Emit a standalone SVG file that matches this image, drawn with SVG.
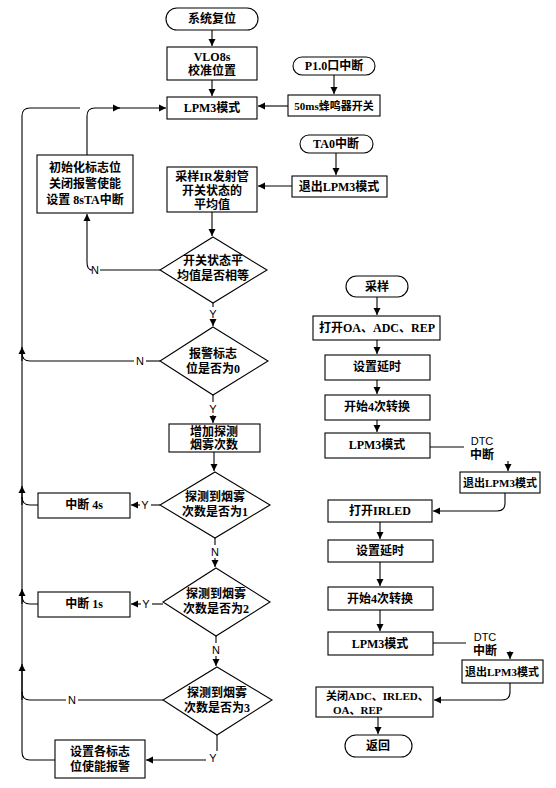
<svg xmlns="http://www.w3.org/2000/svg" width="556" height="788" viewBox="0 0 556 788">
<defs>
<marker id="ah" markerWidth="8" markerHeight="8" refX="7" refY="4" orient="auto" markerUnits="userSpaceOnUse">
<path d="M0,0.5 L7,4 L0,7.5 Z" fill="#000"/>
</marker>
<style>
.b{fill:#fff;stroke:#000;stroke-width:1.1}
.c{fill:none;stroke:#000;stroke-width:1.1}
.t{font-family:"Liberation Serif","Noto Sans CJK SC",serif;font-size:12px;fill:#000;text-anchor:middle;font-weight:bold}
.sm{font-size:11px}
.s{font-family:"Liberation Sans","Noto Sans CJK SC",sans-serif;font-size:11px;fill:#000;text-anchor:middle}
</style>
</defs>
<rect width="556" height="788" fill="#fff"/>

<g id="connectors">
<path class="c" d="M212,30 V46" marker-end="url(#ah)"/>
<path class="c" d="M212,80 V96" marker-end="url(#ah)"/>
<path class="c" d="M334,75 V94" marker-end="url(#ah)"/>
<path class="c" d="M288,106 H258" marker-end="url(#ah)"/>
<path class="c" d="M336,153 V175" marker-end="url(#ah)"/>
<path class="c" d="M292,186 H258" marker-end="url(#ah)"/>
<path class="c" d="M212,212 V236" marker-end="url(#ah)"/>
<path class="c" d="M160,270 H100"/>
<text class="s" x="95" y="274">N</text>
<path class="c" d="M90,270 H92 Q87,270 87,262 V214" marker-end="url(#ah)"/>
<path class="c" d="M87,155 V116 Q87,108 95,108 H120" marker-end="url(#ah)"/>
<path class="c" d="M118,108 H166" marker-end="url(#ah)"/>
<path class="c" d="M213,303 V307"/>
<text class="s" x="213" y="318">Y</text>
<path class="c" d="M213,319 V326" marker-end="url(#ah)"/>
<path class="c" d="M160,361 H146"/>
<text class="s" x="140" y="365">N</text>
<path class="c" d="M134,361 H30 Q22,361 22,353"/>
<path class="c" d="M213,395 V402"/>
<text class="s" x="213" y="413">Y</text>
<path class="c" d="M213,415 V423" marker-end="url(#ah)"/>
<path class="c" d="M214,452 V471" marker-end="url(#ah)"/>
<path class="c" d="M160,505 H151"/>
<text class="s" x="145" y="509">Y</text>
<path class="c" d="M140,505 H131" marker-end="url(#ah)"/>
<path class="c" d="M38,505 H30 Q22,505 22,497"/>
<path class="c" d="M215,538 V545"/>
<text class="s" x="215" y="556">N</text>
<path class="c" d="M215,558 V567" marker-end="url(#ah)"/>
<path class="c" d="M163,604 H152"/>
<text class="s" x="146" y="608">Y</text>
<path class="c" d="M141,604 H131" marker-end="url(#ah)"/>
<path class="c" d="M38,604 H30 Q22,604 22,596"/>
<path class="c" d="M216,636 V643"/>
<text class="s" x="216" y="654">N</text>
<path class="c" d="M216,656 V666" marker-end="url(#ah)"/>
<path class="c" d="M163,700 H78"/>
<text class="s" x="72" y="704">N</text>
<path class="c" d="M66,700 H30 Q22,700 22,692"/>
<path class="c" d="M217,735 V751"/>
<text class="s" x="213" y="762">Y</text>
<path class="c" d="M206,760 H146" marker-end="url(#ah)"/>
<path class="c" d="M55,760 H30 Q22,760 22,752 V116 Q22,108 30,108 H80"/>
<path class="c" d="M22,700 V664" marker-end="url(#ah)"/>
<path class="c" d="M22,604 V589" marker-end="url(#ah)"/>
<path class="c" d="M22,505 V486" marker-end="url(#ah)"/>
<path class="c" d="M22,361 V347" marker-end="url(#ah)"/>

<path class="c" d="M377,297 V315" marker-end="url(#ah)"/>
<path class="c" d="M377,340 V354" marker-end="url(#ah)"/>
<path class="c" d="M377,380 V394" marker-end="url(#ah)"/>
<path class="c" d="M377,420 V432" marker-end="url(#ah)"/>
<path class="c" d="M430,447 H464"/>
<text class="s" x="482" y="445">DTC</text>
<text class="t" x="482" y="459">中断</text>
<path class="c" d="M508,461 V471" marker-end="url(#ah)"/>
<path class="c" d="M505,493 V503 Q505,511 497,511 H433" marker-end="url(#ah)"/>
<path class="c" d="M380,522 V539" marker-end="url(#ah)"/>
<path class="c" d="M380,562 V586" marker-end="url(#ah)"/>
<path class="c" d="M380,610 V631" marker-end="url(#ah)"/>
<path class="c" d="M433,643 H466"/>
<text class="s" x="485" y="641">DTC</text>
<text class="t" x="485" y="655">中断</text>
<path class="c" d="M510,651 V659" marker-end="url(#ah)"/>
<path class="c" d="M510,683 V692 Q510,700 502,700 H434" marker-end="url(#ah)"/>
<path class="c" d="M378,717 V734" marker-end="url(#ah)"/>
</g>

<g id="n_reset"><rect class="b" x="166" y="8" width="92" height="22" rx="11"/><text class="t" x="212" y="23">系统复位</text></g>
<g id="n_vlo"><rect class="b" x="167" y="47" width="90" height="33"/><text class="t" x="212" y="61">VLO8s</text><text class="t" x="212" y="75">校准位置</text></g>
<g id="n_lpm3"><rect class="b" x="167" y="97" width="90" height="22"/><text class="t" x="212" y="112">LPM3模式</text></g>
<g id="n_p10"><rect class="b" x="293" y="57" width="82" height="18" rx="9"/><text class="t" x="334" y="70">P1.0口中断</text></g>
<g id="n_50ms"><rect class="b" x="288" y="95" width="92" height="21"/><text class="t sm" x="334" y="110">50ms蜂鸣器开关</text></g>
<g id="n_ta0"><rect class="b" x="300" y="135" width="73" height="18" rx="9"/><text class="t" x="336" y="148">TA0中断</text></g>
<g id="n_exit0"><rect class="b" x="292" y="176" width="95" height="21"/><text class="t" x="339" y="191">退出LPM3模式</text></g>
<g id="n_init"><rect class="b" x="37" y="155" width="96" height="58"/><text class="t" x="85" y="172">初始化标志位</text><text class="t" x="85" y="188">关闭报警使能</text><text class="t" x="85" y="204">设置 8sTA中断</text></g>
<g id="n_sample"><rect class="b" x="167" y="167" width="90" height="45"/><text class="t" x="212" y="181">采样IR发射管</text><text class="t" x="212" y="195">开关状态的</text><text class="t" x="212" y="209">平均值</text></g>
<g id="d_equal"><polygon class="b" points="213,237 267,270 213,303 160,270"/><text class="t" x="213" y="265">开关状态平</text><text class="t" x="213" y="280">均值是否相等</text></g>
<g id="d_alarm"><polygon class="b" points="213,327 268,361 213,395 160,361"/><text class="t" x="213" y="358">报警标志</text><text class="t" x="213" y="373">位是否为0</text></g>
<g id="n_inc"><rect class="b" x="169" y="424" width="91" height="28"/><text class="t" x="214" y="436">增加探测</text><text class="t" x="214" y="449">烟雾次数</text></g>
<g id="d_1"><polygon class="b" points="215,472 270,505 215,538 160,505"/><text class="t" x="215" y="501">探测到烟雾</text><text class="t" x="215" y="516">次数是否为1</text></g>
<g id="n_4s"><rect class="b" x="38" y="493" width="92" height="25"/><text class="t" x="84" y="509">中断 4s</text></g>
<g id="d_2"><polygon class="b" points="216,568 270,602 216,636 163,602"/><text class="t" x="216" y="598">探测到烟雾</text><text class="t" x="216" y="613">次数是否为2</text></g>
<g id="n_1s"><rect class="b" x="38" y="592" width="92" height="25"/><text class="t" x="84" y="608">中断 1s</text></g>
<g id="d_3"><polygon class="b" points="217,667 272,700 217,735 163,700"/><text class="t" x="217" y="697">探测到烟雾</text><text class="t" x="217" y="712">次数是否为3</text></g>
<g id="n_set"><rect class="b" x="55" y="740" width="90" height="38"/><text class="t" x="100" y="756">设置各标志</text><text class="t" x="100" y="771">位使能报警</text></g>

<g id="n_cy"><rect class="b" x="346" y="276" width="62" height="21" rx="10.5"/><text class="t" x="377" y="291">采样</text></g>
<g id="n_open"><rect class="b" x="313" y="316" width="127" height="24"/><text class="t" x="377" y="332">打开OA、ADC、REP</text></g>
<g id="n_delay1"><rect class="b" x="325" y="355" width="105" height="25"/><text class="t" x="377" y="371">设置延时</text></g>
<g id="n_conv1"><rect class="b" x="325" y="395" width="105" height="25"/><text class="t" x="377" y="411">开始4次转换</text></g>
<g id="n_lpm3a"><rect class="b" x="325" y="433" width="105" height="25"/><text class="t" x="377" y="449">LPM3模式</text></g>
<g id="n_exit1"><rect class="b" x="460" y="472" width="80" height="21"/><text class="t sm" x="500" y="487">退出LPM3模式</text></g>
<g id="n_irled"><rect class="b" x="328" y="500" width="104" height="22"/><text class="t" x="380" y="515">打开IRLED</text></g>
<g id="n_delay2"><rect class="b" x="328" y="540" width="105" height="22"/><text class="t" x="380" y="555">设置延时</text></g>
<g id="n_conv2"><rect class="b" x="328" y="587" width="105" height="23"/><text class="t" x="380" y="603">开始4次转换</text></g>
<g id="n_lpm3b"><rect class="b" x="328" y="632" width="105" height="23"/><text class="t" x="380" y="648">LPM3模式</text></g>
<g id="n_exit2"><rect class="b" x="462" y="660" width="81" height="23"/><text class="t sm" x="502" y="676">退出LPM3模式</text></g>
<g id="n_close"><rect class="b" x="316" y="687" width="117" height="30"/><text class="t sm" x="326" y="700" style="text-anchor:start">关闭ADC、IRLED、</text><text class="t sm" x="333" y="714" style="text-anchor:start">OA、REP</text></g>
<g id="n_ret"><rect class="b" x="345" y="735" width="67" height="22" rx="11"/><text class="t" x="378" y="750">返回</text></g>
</svg>
